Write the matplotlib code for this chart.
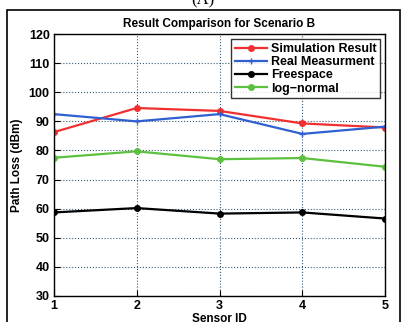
import matplotlib.pyplot as plt
from matplotlib.patches import Rectangle

sensors = [1, 2, 3, 4, 5]
simulation = [86.3, 94.6, 93.6, 89.3, 87.9]
real = [92.5, 90.0, 92.5, 85.7, 88.2]
freespace = [58.7, 60.2, 58.3, 58.7, 56.6]
lognormal = [77.5, 79.7, 77.0, 77.4, 74.4]

plt.rcParams['font.family'] = ['Liberation Sans', 'DejaVu Sans']
plt.rcParams['font.weight'] = 'bold'

fig = plt.figure(figsize=(4.05, 3.22), dpi=100)
ax = fig.add_axes([0.133, 0.081, 0.818, 0.813])

ax.plot(sensors, simulation, color='#f03030', marker='o', ms=4, lw=1.6, label='Simulation Result')
ax.plot(sensors, real, color='#2f5fd0', marker='+', ms=5, lw=1.6, label='Real Measurment')
ax.plot(sensors, freespace, color='black', marker='o', ms=4, lw=1.6, label='Freespace')
ax.plot(sensors, lognormal, color='#5cc040', marker='o', ms=4, lw=1.6, label='log\u2212normal')

ax.set_xlim(1, 5)
ax.set_ylim(30, 120)
ax.set_xticks(sensors)
ax.set_yticks(range(30, 121, 10))
ax.grid(True, linestyle=':', color='#3a5a70', lw=0.8)
ax.tick_params(direction='in', labelsize=9, length=4, pad=3)
for s in ax.spines.values():
    s.set_linewidth(1.0)

ax.set_title('Result Comparison for Scenario B', fontsize=8.5, fontweight='bold', pad=5)
ax.set_xlabel('Sensor ID', fontsize=8.5, fontweight='bold', labelpad=1)
ax.set_ylabel('Path Loss (dBm)', fontsize=8.5, fontweight='bold', labelpad=4)

leg = ax.legend(loc='upper right', fontsize=9, frameon=True, fancybox=False,
                edgecolor='black', borderpad=0.3, labelspacing=0.1,
                handlelength=2.6, handletextpad=0.3, borderaxespad=0.4)
leg.get_frame().set_linewidth(1.0)

# outer frame of the original figure panel
fig.patches.append(Rectangle((0.017, -0.1), 0.97, 1.068, transform=fig.transFigure,
                             fill=False, edgecolor='black', lw=1.2))
fig.text(0.5, 0.998, '(A)', ha='center', va='center', fontsize=12,
         family='Liberation Serif', fontweight='normal')

fig.savefig('out.png', dpi=100)
